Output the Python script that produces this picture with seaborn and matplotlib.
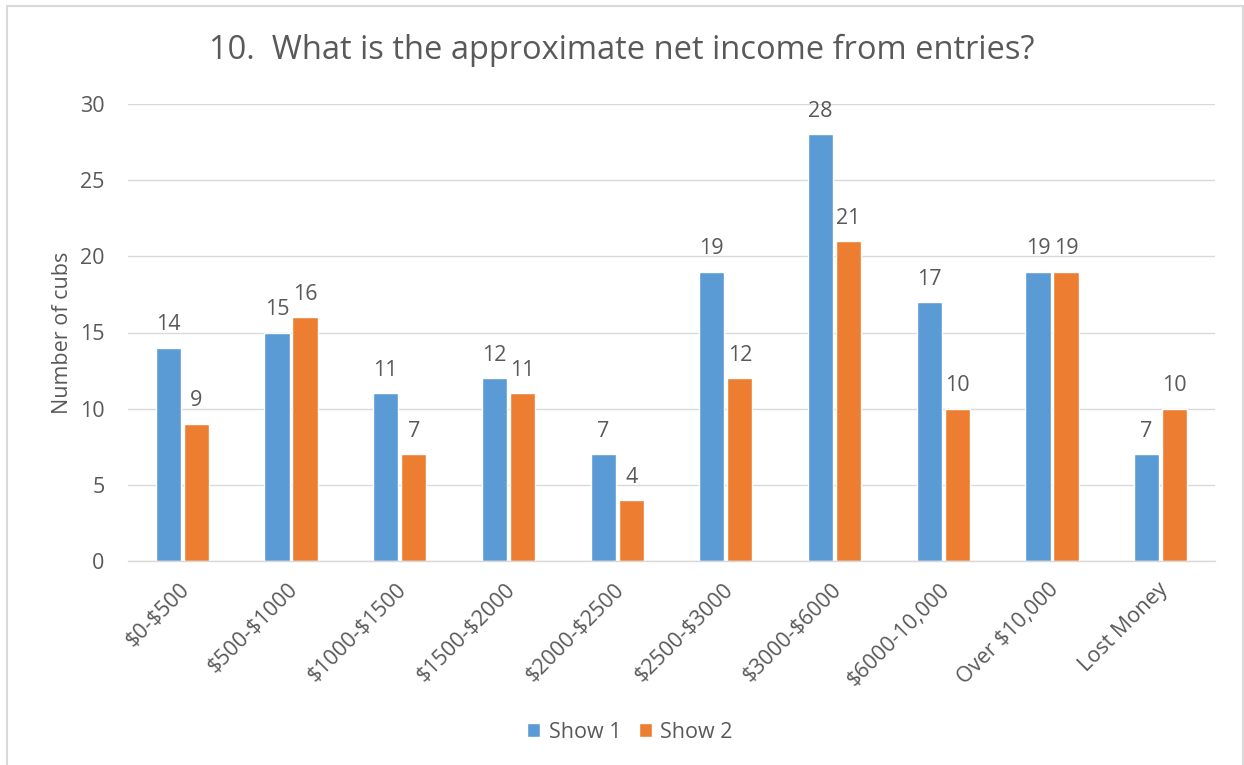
import matplotlib
matplotlib.use("Agg")
import matplotlib.pyplot as plt
import matplotlib.transforms as mtransforms
from matplotlib.lines import Line2D
from matplotlib.patches import Patch
import seaborn as sns
import pandas as pd

categories = ["$0-$500", "$500-$1000", "$1000-$1500", "$1500-$2000", "$2000-$2500",
              "$2500-$3000", "$3000-$6000", "$6000-10,000", "Over $10,000", "Lost Money"]
show1 = [14, 15, 11, 12, 7, 19, 28, 17, 19, 7]
show2 = [9, 16, 7, 11, 4, 12, 21, 10, 19, 10]
series_names = ["Show 1", "Show 2"]
yticks = [0, 5, 10, 15, 20, 25, 30]

title = "10.  What is the approximate net income from entries?"
ylabel = "Number of cubs"

BLUE = "#5B9BD5"
ORANGE = "#ED7D31"
TXT = "#595959"
GRID = "#D9D9D9"
FS = 15.5

sns.set_theme(style="white")
plt.rcParams["font.family"] = ["Open Sans", "DejaVu Sans"]
plt.rcParams["text.parse_math"] = False

df = pd.DataFrame({
    "cat": categories * 2,
    "val": show1 + show2,
    "series": [series_names[0]] * len(categories) + [series_names[1]] * len(categories),
})

W, H = 1244, 765
fig = plt.figure(figsize=(W / 100, H / 100), dpi=100)
ax = fig.add_axes([128 / W, 1 - 561 / H, (1215 - 128) / W, (561 - 104) / H])

sns.barplot(data=df, x="cat", y="val", hue="series", order=categories,
            hue_order=series_names, palette=[BLUE, ORANGE], width=0.515, gap=0.1,
            saturation=1, ax=ax, legend=False)

ax.set_ylim(0, 30)
ax.set_xlim(-0.5, len(categories) - 0.5)
ax.set_yticks(yticks)
ax.set_yticklabels([str(v) for v in yticks], fontsize=FS, color=TXT)
ax.yaxis.grid(True, color=GRID, linewidth=1.0)
ax.set_axisbelow(True)
for s in ["top", "right", "left"]:
    ax.spines[s].set_visible(False)
ax.spines["bottom"].set_color(GRID)
ax.spines["bottom"].set_linewidth(1.0)
ax.tick_params(axis="both", length=0)
ax.tick_params(axis="y", pad=17)
ax.tick_params(axis="x", pad=13)

ax.set_xlabel("")
ax.set_ylabel(ylabel, fontsize=FS, color=TXT, labelpad=5)
ax.set_xticks(range(len(categories)))
ax.set_xticklabels(categories, rotation=45, ha="right", va="top",
                   rotation_mode="anchor", fontsize=FS, color=TXT, parse_math=False)
offset = mtransforms.ScaledTranslation(-2.5 / 72, 0, fig.dpi_scale_trans)
for lab in ax.get_xticklabels():
    lab.set_transform(lab.get_transform() + offset)

for cont in ax.containers:
    ax.bar_label(cont, padding=9, fontsize=FS, color=TXT)

fig.text(0.5, 1 - 50 / H, title, ha="center", va="center", fontsize=23.5, color=TXT)

handles = [Patch(facecolor=BLUE, label=series_names[0]),
           Patch(facecolor=ORANGE, label=series_names[1])]
fig.legend(handles=handles, loc="center", bbox_to_anchor=(630 / W, 1 - 732 / H),
           ncol=2, frameon=False, fontsize=FS, labelcolor=TXT,
           handlelength=0.6, handleheight=0.6, handletextpad=0.4, columnspacing=0.8)

# outer chart border
fig.add_artist(Line2D([7.5 / W, 7.5 / W], [0, 1 - 5.5 / H], transform=fig.transFigure,
                      color=GRID, linewidth=1.5))
fig.add_artist(Line2D([7.5 / W, 1242.5 / W], [1 - 5.5 / H, 1 - 5.5 / H],
                      transform=fig.transFigure, color=GRID, linewidth=1.5))
fig.add_artist(Line2D([1242.5 / W, 1242.5 / W], [0, 1 - 5.5 / H], transform=fig.transFigure,
                      color=GRID, linewidth=1.5))

fig.savefig("out.png", dpi=100, facecolor="white")
